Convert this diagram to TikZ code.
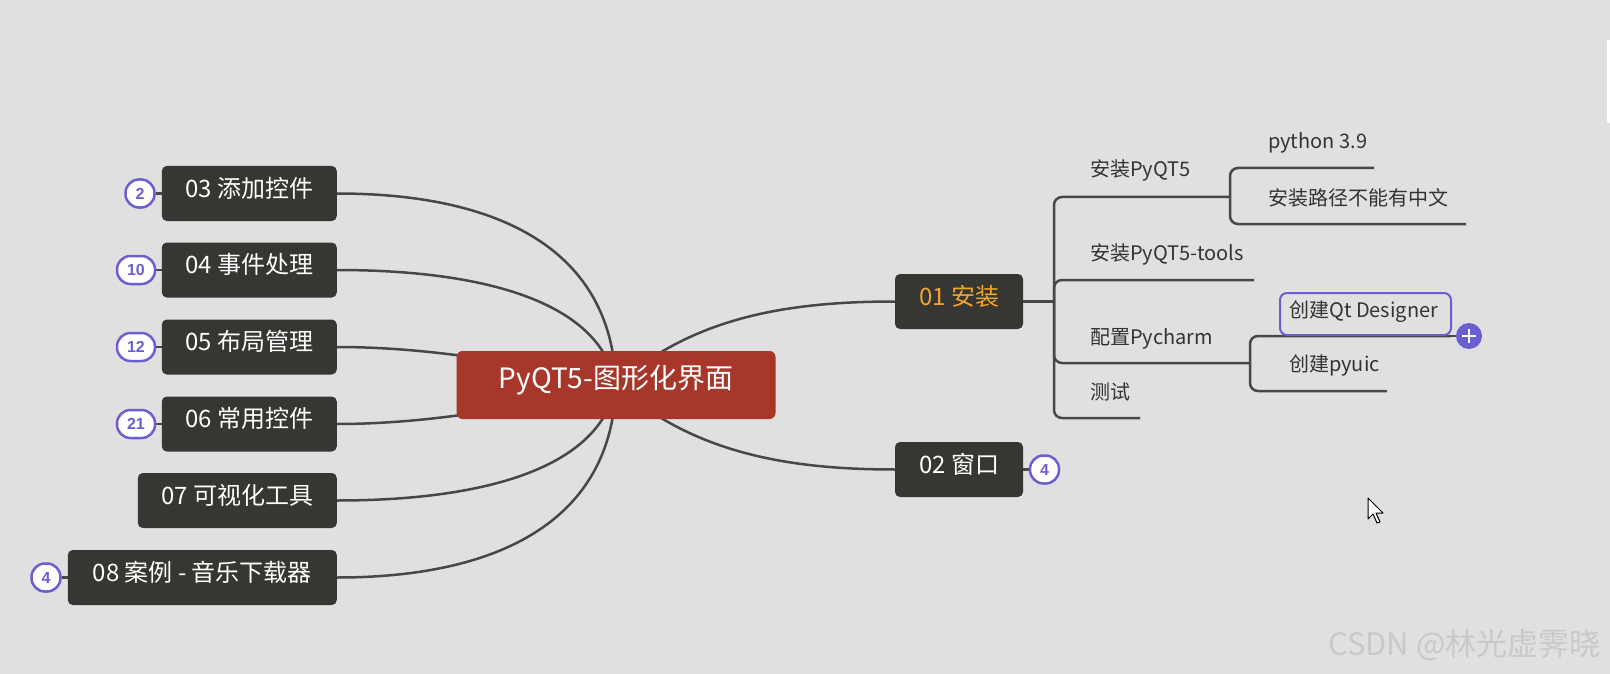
\documentclass[tikz,border=0pt]{standalone}
\usepackage{fontspec}
\setmainfont{Noto Sans CJK SC}
\newfontfamily\badgefont{Liberation Sans}
\usetikzlibrary{backgrounds}
\definecolor{bgc}{HTML}{E0E0E0}
\definecolor{boxc}{HTML}{363632}
\definecolor{rootc}{HTML}{A7372A}
\definecolor{linec}{HTML}{474747}
\definecolor{purp}{HTML}{6A5FD0}
\definecolor{orng}{HTML}{F2A52E}
\definecolor{wmark}{HTML}{C9C9C9}
\tikzset{
  conn/.style={draw=linec, line width=2.5pt},
  branch/.style={draw=linec, line width=2.5pt, rounded corners=8pt},
  darkbox/.style={fill=boxc, rounded corners=5pt, minimum height=55pt, inner sep=0pt,
    text=white, font=\fontsize{24}{28}\selectfont, text height=0.88em, text depth=0.12em},
  rootbox/.style={fill=rootc, rounded corners=6pt, minimum height=68pt, minimum width=319pt,
    inner sep=0pt, text=white, font=\fontsize{28}{32}\selectfont, text height=0.88em, text depth=0.12em},
  badge/.style={draw=purp, fill=white, line width=2.5pt, rounded corners=13.5pt,
    minimum height=28pt, inner sep=0pt, text=purp, font=\badgefont\bfseries\fontsize{16}{18}\selectfont},
  lbl/.style={anchor=west, inner sep=0pt, text=black!80, font=\fontsize{20}{24}\selectfont,
    text height=0.88em, text depth=0.12em},
}
\begin{document}
\begin{tikzpicture}[x=1pt,y=-1pt]
\useasboundingbox (0,0) rectangle (1610,674);
\begin{scope}[on background layer]
\fill[bgc] (0,0) rectangle (1610,674);
\end{scope}
\fill[white] (1607,40) rectangle (1610,123);

% root
\node[rootbox] (root) at (616,385) {PyQT5-图形化界面};

% left boxes
\node[darkbox, minimum width=175pt, anchor=east] (n03) at (337,193.5) {03 添加控件};
\node[darkbox, minimum width=175pt, anchor=east] (n04) at (337,270) {04 事件处理};
\node[darkbox, minimum width=175pt, anchor=east] (n05) at (337,347) {05 布局管理};
\node[darkbox, minimum width=175pt, anchor=east] (n06) at (337,424) {06 常用控件};
\node[darkbox, minimum width=199pt, anchor=east] (n07) at (337,500.5) {07 可视化工具};
\node[darkbox, minimum width=269pt, anchor=east] (n08) at (337,577.5) {08 案例 - 音乐下载器};

% badges left
\node[badge, minimum width=29pt] (b03) at (140,193.5) {2};
\node[badge, minimum width=38pt] (b04) at (136,270) {10};
\node[badge, minimum width=38pt] (b05) at (136,347) {12};
\node[badge, minimum width=38pt] (b06) at (136,424) {21};
\node[badge, minimum width=29pt] (b08) at (46,577.5) {4};

% right boxes
\node[darkbox, minimum width=128pt, text=orng] (n01) at (959,301.5) {01 安装};
\node[darkbox, minimum width=128pt] (n02) at (959,469.5) {02 窗口};
\node[badge, minimum width=29pt] (b02) at (1044.5,469.5) {4};

% labels
\node[lbl] (t1) at (1090,173) {安装PyQT5};
\node[lbl] (t11) at (1268,145) {python 3.9};
\node[lbl] (t12) at (1268,202) {安装路径不能有中文};
\node[lbl] (t2) at (1090,257) {安装PyQT5-tools};
\node[lbl] (t3) at (1090,341) {配置Pycharm};
\node[lbl] (t31) at (1289,314) {创建Qt Designer};
\node[lbl] (t32) at (1289,368) {创建pyuic};
\node[lbl] (t4) at (1090,396) {测试};

% branch coordinates
\coordinate (j0) at (1054,301.5);
\coordinate (e1) at (1230,197);
\coordinate (e11) at (1374,168);
\coordinate (e12) at (1466,224);
\coordinate (e2) at (1254,280);
\coordinate (e3) at (1250,363);
\coordinate (e31) at (1451,336);
\coordinate (e32) at (1387,391);
\coordinate (e4) at (1140,418);

% selected box
\draw[purp, line width=2pt, rounded corners=7pt] (1280,293) rectangle (1451,335);
\node[circle, fill=purp, minimum size=26pt, inner sep=0pt] (plus) at (1469,336) {};
\draw[white, line width=2.5pt] ([xshift=-7pt]plus.center) -- ([xshift=7pt]plus.center)
  ([yshift=-7pt]plus.center) -- ([yshift=7pt]plus.center);

\begin{scope}[on background layer]
% root connectors
\draw[conn] (n03.east) .. controls (500,193.5) and (612,250) .. (root.center);
\draw[conn] (n04.east) .. controls (480,270) and (600,300) .. (root.center);
\draw[conn] (n05.east) .. controls (450,347) and (560,372) .. (root.center);
\draw[conn] (n06.east) .. controls (450,424) and (560,398) .. (root.center);
\draw[conn] (n07.east) .. controls (480,500.5) and (600,470) .. (root.center);
\draw[conn] (n08.east) .. controls (500,577.5) and (612,520) .. (root.center);
\draw[conn] (root.center) .. controls (690,320) and (780,301.5) .. (n01.west);
\draw[conn] (root.center) .. controls (690,450) and (780,469.5) .. (n02.west);
% badge links
\draw[conn] (b03.east) -- (n03.west);
\draw[conn] (b04.east) -- (n04.west);
\draw[conn] (b05.east) -- (n05.west);
\draw[conn] (b06.east) -- (n06.west);
\draw[conn] (b08.east) -- (n08.west);
\draw[conn] (n02.east) -- (b02.west);
% right tree
\draw[conn] (n01.east) -- (j0);
\draw[branch] (j0) |- (e1);
\draw[branch] (j0) |- (e2);
\draw[branch] (j0) |- (e3);
\draw[branch] (j0) |- (e4);
\draw[branch] (e1) |- (e11);
\draw[branch] (e1) |- (e12);
\draw[branch] (e3) |- (e31);
\draw[branch] (e3) |- (e32);
\draw[conn] (e31) -- (plus.west);
\end{scope}

% cursor
\draw[black, fill=white, line width=1pt, line join=round]
  (1368,498) -- ++(0,21) -- ++(5,-5) -- ++(4,9) -- ++(3,-1) -- ++(-4,-9) -- ++(7,0) -- cycle;

% watermark
\node[anchor=west, inner sep=0pt, text=wmark, font=\fontsize{31}{35}\selectfont] (wm) at (1328,645) {CSDN @林光虚霁晓};
\end{tikzpicture}
\end{document}
